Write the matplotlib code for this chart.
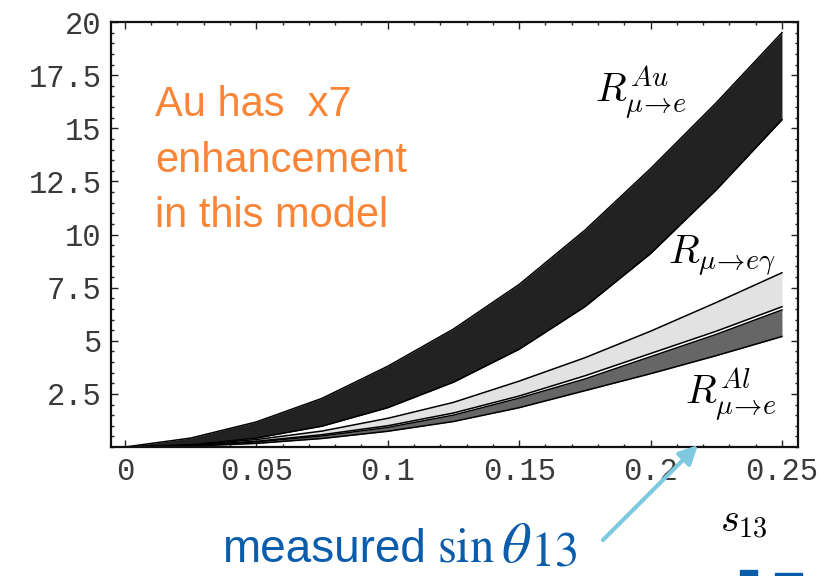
import matplotlib
matplotlib.use("Agg")
import matplotlib.pyplot as plt
from matplotlib.ticker import MultipleLocator
from matplotlib.patches import Rectangle

# values
s13 = [0, 0.025, 0.05, 0.075, 0.1, 0.125, 0.15, 0.175, 0.2, 0.225, 0.25]

# R(mu->e) in Au  (black band)
au_hi = [0, 0.42, 1.18, 2.29, 3.8, 5.55, 7.65, 10.2, 13.1, 16.2, 19.5]
au_lo = [0, 0.10, 0.42, 0.98, 1.85, 3.05, 4.6, 6.6, 9.1, 12.1, 15.4]

# R(mu->e gamma)  (light band)
meg_hi = [0, 0.10, 0.35, 0.75, 1.35, 2.1, 3.1, 4.2, 5.45, 6.8, 8.2]
meg_lo = [0, 0.07, 0.27, 0.58, 1.0, 1.6, 2.4, 3.35, 4.4, 5.45, 6.6]

# R(mu->e) in Al  (dark grey band)
al_hi = [0, 0.06, 0.24, 0.52, 0.92, 1.5, 2.3, 3.2, 4.25, 5.3, 6.45]
al_lo = [0, 0.04, 0.17, 0.40, 0.74, 1.2, 1.85, 2.65, 3.45, 4.3, 5.2]

xticks = [0, 0.05, 0.1, 0.15, 0.2, 0.25]
xtick_labels = ["0", "0.05", "0.1", "0.15", "0.2", "0.25"]
yticks = [2.5, 5, 7.5, 10, 12.5, 15, 17.5, 20]
ytick_labels = ["2.5", "5", "7.5", "10", "12.5", "15", "17.5", "20"]

W, H = 831, 576
fig = plt.figure(figsize=(W / 100, H / 100), dpi=100)
ax = fig.add_axes([111 / W, 1 - 447 / H, (798 - 111) / W, (447 - 22) / H])


def fx(px):
    return px / W


def fy(py):
    return 1 - py / H


# bands
ax.fill_between(s13, au_lo, au_hi, color="#222222", lw=0)
ax.fill_between(s13, meg_lo, meg_hi, color="#e2e2e2", lw=0)
ax.fill_between(s13, al_lo, al_hi, color="#666666", lw=0)
for curve in [au_hi, au_lo, meg_hi, meg_lo, al_hi, al_lo]:
    ax.plot(s13, curve, color="black", lw=1.1)

ax.set_xlim(-0.0053, 0.2561)
ax.set_ylim(0, 20)

ax.set_xticks(xticks, xtick_labels)
ax.set_yticks(yticks, ytick_labels)
ax.xaxis.set_minor_locator(MultipleLocator(0.01))
ax.yaxis.set_minor_locator(MultipleLocator(0.5))
ax.tick_params(which="both", direction="in", top=True, right=True,
               colors="#222222", width=1.0)
ax.tick_params(which="major", length=5)
ax.tick_params(which="minor", length=2.5)
ax.tick_params(axis="both", which="major", labelsize=22,
               labelcolor="#3a3a3a", pad=7)
for lab in ax.get_xticklabels() + ax.get_yticklabels():
    lab.set_family("Liberation Mono")
for sp in ax.spines.values():
    sp.set_linewidth(1.6)
    sp.set_color("#111111")

# curve labels
fig.text(fx(595), fy(103), r"$R^{Au}_{\mu\!\to\!e}$", fontsize=29,
         math_fontfamily="cm", va="baseline", ha="left")
fig.text(fx(668), fy(263), r"$R_{\mu\!\to\!e\gamma}$", fontsize=29,
         math_fontfamily="cm", va="baseline", ha="left")
fig.text(fx(685), fy(405), r"$R^{Al}_{\mu\!\to\!e}$", fontsize=29,
         math_fontfamily="cm", va="baseline", ha="left")
fig.text(fx(720), fy(532), r"$s_{13}$", fontsize=29,
         math_fontfamily="cm", va="baseline", ha="left")

# orange note
fig.text(fx(155), fy(227), "Au has  x7\nenhancement\nin this model",
         color="#fa8536", fontsize=30, family="Liberation Sans",
         va="baseline", ha="left", linespacing=1.5)

# measured sin theta13
blue = "#0b5cab"
fig.text(fx(222), fy(562), "measured", color=blue, fontsize=33,
         family="Liberation Sans", va="baseline", ha="left")
fig.text(fx(437), fy(562), r"$\mathrm{sin}$", color=blue, fontsize=35,
         math_fontfamily="stix", va="baseline", ha="left")
fig.text(fx(501), fy(562), r"$\theta$", color=blue, fontsize=41,
         math_fontfamily="stix", va="baseline", ha="left")
fig.text(fx(530), fy(566), r"$\mathrm{13}$", color=blue, fontsize=35,
         math_fontfamily="stix", va="baseline", ha="left")
ax.annotate("", xy=(fx(698), fy(445)), xycoords="figure fraction",
            xytext=(fx(603), fy(540)), textcoords="figure fraction",
            arrowprops=dict(arrowstyle="-|>", color="#7ec8e0", lw=3,
                            mutation_scale=28, shrinkA=0, shrinkB=0),
            annotation_clip=False)

# clipped bits of the slide text below
fig.patches.append(Rectangle((fx(740), 0), 17 / W, 6 / H, color=blue,
                             transform=fig.transFigure, figure=fig))
fig.patches.append(Rectangle((fx(775), 0), 27 / W, 3 / H, color=blue,
                             transform=fig.transFigure, figure=fig))

fig.savefig("out.png", dpi=100)
